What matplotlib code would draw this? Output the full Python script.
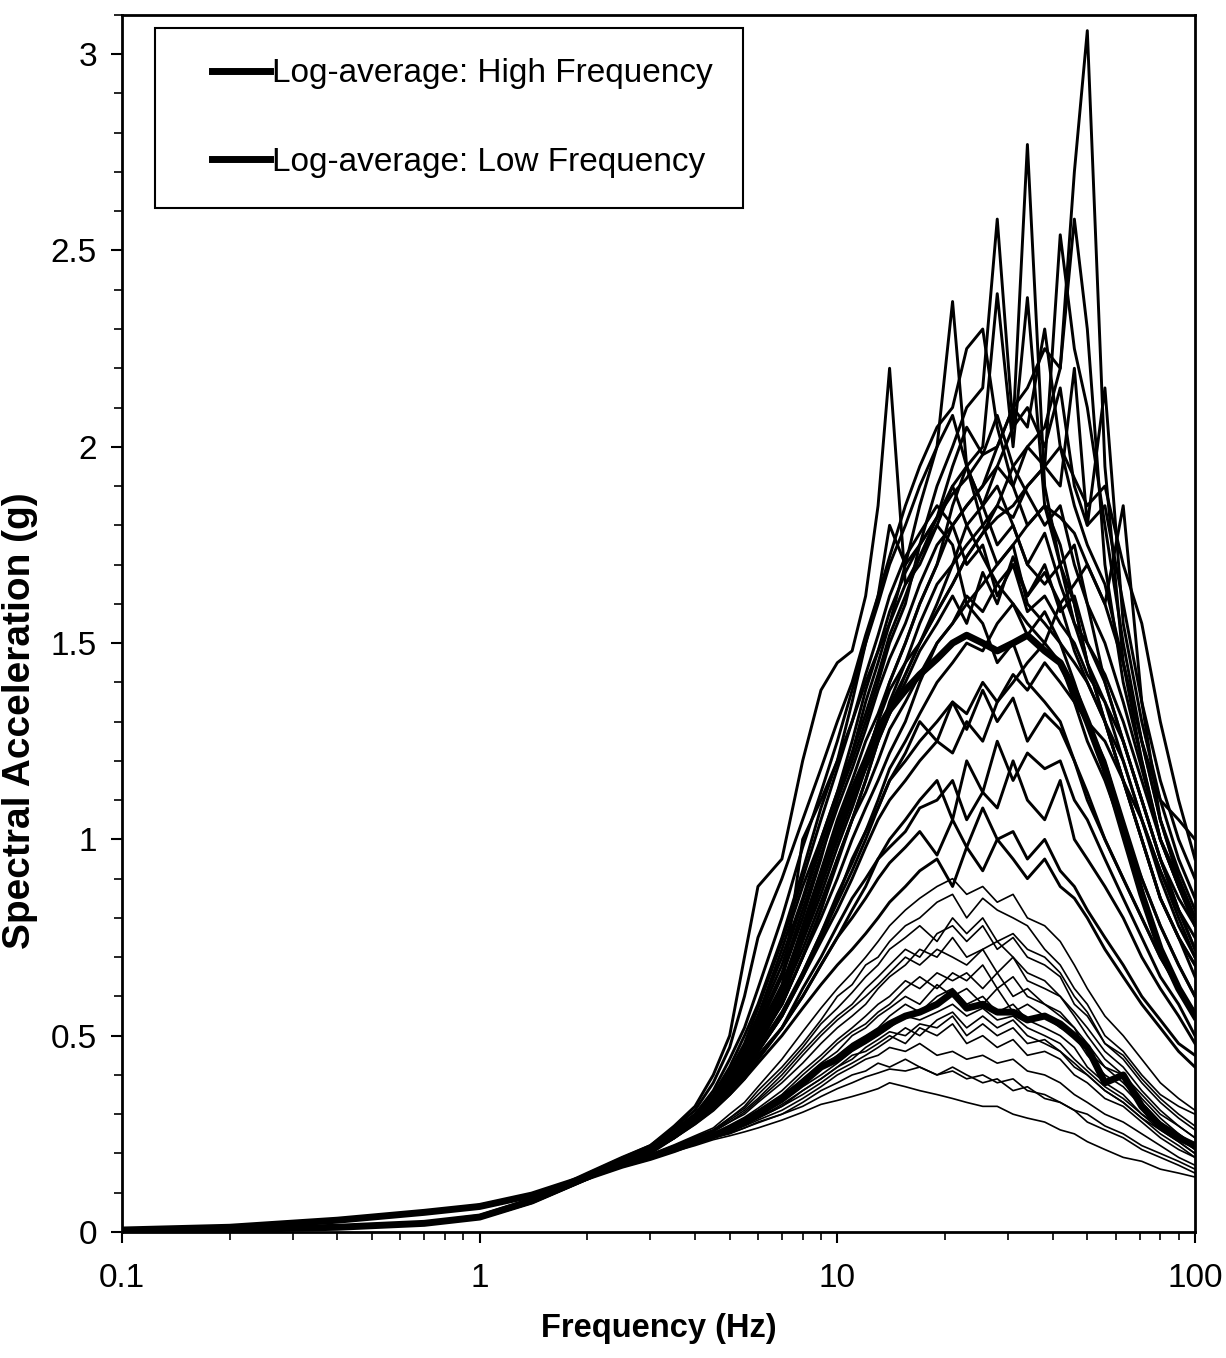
import matplotlib
matplotlib.use('Agg')
import matplotlib.pyplot as plt
from matplotlib.legend_handler import HandlerLine2D
from matplotlib.ticker import LogLocator, MultipleLocator, NullFormatter

# frequency grid (Hz) shared by every spectrum
freq = [0.1, 0.2, 0.4, 0.7, 1.0, 1.4, 2.0, 2.5,
        3.0, 3.5, 4.0, 4.5, 5.0, 5.5, 6.0, 7, 8, 9, 10, 11, 12, 13, 14,
        15.5, 17, 19, 21, 23, 25.5, 28, 31, 34, 38, 42, 46, 50, 56, 63, 71,
        80, 90, 100]

# high-frequency records (g)
hf_01 = [0.003, 0.007, 0.013, 0.024, 0.042, 0.085, 0.15, 0.19, 0.22, 0.27, 0.32, 0.40,
         0.50, 0.70, 0.88, 0.95, 1.20, 1.38, 1.45, 1.48, 1.62, 1.85, 2.20, 1.65, 1.70, 1.80, 1.75, 1.60, 1.55, 1.45, 1.50, 1.40, 1.35, 1.30, 1.20, 1.10, 1.00, 0.90, 0.80, 0.70, 0.62, 0.55]
hf_02 = [0.003, 0.006, 0.012, 0.022, 0.038, 0.08, 0.14, 0.18, 0.21, 0.25, 0.29, 0.33,
         0.38, 0.44, 0.52, 0.65, 0.80, 0.95, 1.10, 1.20, 1.30, 1.40, 1.50, 1.60, 1.75, 1.90, 2.00, 2.10, 2.15, 2.58, 2.05, 2.77, 1.90, 1.70, 1.60, 1.45, 1.30, 1.15, 1.00, 0.85, 0.75, 0.68]
hf_03 = [0.003, 0.006, 0.011, 0.021, 0.036, 0.078, 0.14, 0.18, 0.21, 0.25, 0.28, 0.32,
         0.37, 0.42, 0.48, 0.60, 0.75, 0.88, 1.00, 1.10, 1.20, 1.30, 1.38, 1.45, 1.55, 1.65, 1.70, 1.80, 1.85, 1.95, 1.90, 2.00, 1.95, 2.54, 2.25, 2.10, 1.80, 1.50, 1.25, 1.05, 0.90, 0.80]
hf_04 = [0.003, 0.006, 0.012, 0.023, 0.040, 0.082, 0.145, 0.185, 0.215, 0.255, 0.295, 0.34,
         0.40, 0.47, 0.55, 0.72, 0.88, 1.00, 1.12, 1.22, 1.35, 1.45, 1.55, 1.70, 1.85, 2.00, 2.37, 1.95, 1.80, 1.70, 1.75, 1.60, 1.55, 1.50, 1.40, 1.30, 1.20, 1.05, 0.90, 0.78, 0.68, 0.60]
hf_05 = [0.003, 0.006, 0.012, 0.022, 0.038, 0.079, 0.14, 0.18, 0.21, 0.25, 0.29, 0.33,
         0.38, 0.43, 0.50, 0.62, 0.78, 0.92, 1.05, 1.15, 1.25, 1.32, 1.40, 1.50, 1.60, 1.70, 1.85, 1.95, 2.00, 2.39, 2.00, 2.38, 1.85, 1.70, 1.75, 1.60, 1.40, 1.25, 1.10, 0.95, 0.82, 0.72]
hf_06 = [0.003, 0.006, 0.012, 0.022, 0.039, 0.08, 0.142, 0.18, 0.21, 0.25, 0.29, 0.33,
         0.38, 0.44, 0.50, 0.62, 0.76, 0.90, 1.00, 1.10, 1.20, 1.30, 1.40, 1.50, 1.60, 1.70, 1.80, 1.85, 1.90, 2.00, 2.10, 2.15, 2.25, 2.20, 2.70, 3.06, 1.95, 1.45, 1.20, 1.00, 0.88, 0.78]
hf_07 = [0.003, 0.006, 0.012, 0.022, 0.038, 0.079, 0.14, 0.18, 0.21, 0.245, 0.285, 0.325,
         0.37, 0.42, 0.48, 0.58, 0.70, 0.82, 0.95, 1.05, 1.15, 1.25, 1.35, 1.45, 1.50, 1.60, 1.70, 1.75, 1.80, 1.85, 1.95, 2.00, 2.05, 2.20, 2.58, 2.30, 1.70, 1.40, 1.20, 1.00, 0.90, 0.80]
hf_08 = [0.003, 0.006, 0.012, 0.022, 0.038, 0.08, 0.14, 0.18, 0.21, 0.25, 0.29, 0.33,
         0.38, 0.43, 0.49, 0.60, 0.74, 0.86, 0.98, 1.08, 1.18, 1.26, 1.34, 1.42, 1.50, 1.58, 1.65, 1.72, 1.78, 1.82, 1.85, 1.90, 1.95, 1.90, 2.20, 1.80, 2.15, 1.55, 1.30, 1.10, 0.95, 0.85]
hf_09 = [0.003, 0.006, 0.012, 0.022, 0.039, 0.081, 0.145, 0.18, 0.215, 0.255, 0.30, 0.35,
         0.42, 0.50, 0.58, 0.75, 0.92, 1.08, 1.20, 1.35, 1.50, 1.62, 1.72, 1.85, 1.95, 2.05, 2.10, 2.25, 2.30, 2.05, 1.90, 1.80, 1.85, 1.75, 1.60, 1.45, 1.30, 1.15, 1.00, 0.85, 0.75, 0.68]
hf_10 = [0.003, 0.006, 0.012, 0.022, 0.038, 0.08, 0.14, 0.18, 0.21, 0.25, 0.29, 0.33,
         0.38, 0.43, 0.49, 0.58, 0.70, 0.80, 0.90, 1.00, 1.08, 1.15, 1.22, 1.30, 1.40, 1.50, 1.55, 1.60, 1.65, 1.70, 1.75, 1.80, 1.85, 1.82, 1.78, 1.70, 1.60, 1.45, 1.25, 1.10, 1.05, 1.00]
hf_11 = [0.003, 0.006, 0.011, 0.021, 0.036, 0.077, 0.138, 0.178, 0.205, 0.245, 0.28, 0.32,
         0.36, 0.41, 0.46, 0.55, 0.66, 0.76, 0.85, 0.95, 1.02, 1.10, 1.18, 1.25, 1.32, 1.40, 1.45, 1.50, 1.48, 1.55, 1.60, 1.52, 1.58, 1.50, 1.45, 1.40, 1.30, 1.15, 1.00, 0.85, 0.75, 0.65]
hf_12 = [0.003, 0.006, 0.011, 0.021, 0.036, 0.076, 0.136, 0.175, 0.205, 0.24, 0.28, 0.32,
         0.36, 0.40, 0.45, 0.52, 0.60, 0.68, 0.75, 0.82, 0.88, 0.95, 1.00, 1.05, 1.10, 1.15, 1.05, 1.20, 1.12, 1.25, 1.15, 1.22, 1.18, 1.20, 1.10, 1.05, 0.95, 0.85, 0.75, 0.65, 0.58, 0.50]
hf_13 = [0.003, 0.006, 0.012, 0.022, 0.038, 0.079, 0.14, 0.18, 0.21, 0.25, 0.29, 0.33,
         0.38, 0.44, 0.52, 0.62, 1.00, 1.10, 1.20, 1.30, 1.40, 1.48, 1.55, 1.65, 1.72, 1.80, 1.90, 1.95, 1.85, 1.90, 1.80, 1.70, 1.78, 1.65, 1.55, 1.50, 1.40, 1.25, 1.10, 0.95, 0.82, 0.72]
hf_14 = [0.003, 0.006, 0.011, 0.021, 0.035, 0.075, 0.135, 0.175, 0.20, 0.24, 0.275, 0.31,
         0.35, 0.39, 0.43, 0.50, 0.57, 0.63, 0.68, 0.72, 0.76, 0.80, 0.84, 0.88, 0.92, 0.95, 0.88, 0.98, 0.92, 1.00, 0.95, 0.90, 0.95, 0.88, 0.85, 0.80, 0.72, 0.65, 0.58, 0.52, 0.46, 0.42]
hf_15 = [0.003, 0.006, 0.012, 0.022, 0.039, 0.08, 0.142, 0.182, 0.212, 0.252, 0.292, 0.335,
         0.39, 0.45, 0.53, 0.66, 0.82, 0.96, 1.08, 1.18, 1.28, 1.38, 1.46, 1.55, 1.65, 1.75, 1.80, 1.85, 1.90, 1.95, 2.05, 2.10, 2.00, 2.15, 1.90, 1.80, 1.85, 1.60, 1.35, 1.15, 1.00, 0.90]
hf_16 = [0.003, 0.006, 0.012, 0.022, 0.038, 0.079, 0.14, 0.18, 0.21, 0.25, 0.29, 0.33,
         0.38, 0.43, 0.50, 0.60, 0.72, 0.84, 0.95, 1.05, 1.12, 1.20, 1.28, 1.35, 1.42, 1.50, 1.55, 1.62, 1.58, 1.65, 1.70, 1.62, 1.68, 1.60, 1.65, 1.70, 1.60, 1.85, 1.35, 1.05, 0.90, 0.80]
hf_17 = [0.003, 0.006, 0.011, 0.021, 0.037, 0.078, 0.138, 0.178, 0.208, 0.248, 0.285, 0.325,
         0.37, 0.42, 0.47, 0.56, 0.66, 0.76, 0.86, 0.94, 1.02, 1.08, 1.15, 1.20, 1.25, 1.30, 1.35, 1.32, 1.40, 1.35, 1.42, 1.38, 1.45, 1.40, 1.35, 1.30, 1.25, 1.15, 1.05, 0.92, 0.82, 0.75]
hf_18 = [0.003, 0.006, 0.012, 0.023, 0.040, 0.082, 0.145, 0.185, 0.215, 0.26, 0.30, 0.36,
         0.44, 0.52, 0.62, 0.80, 0.98, 1.12, 1.25, 1.38, 1.50, 1.60, 1.70, 1.80, 1.90, 2.00, 2.08, 1.95, 1.85, 1.75, 1.80, 1.70, 1.65, 1.70, 1.55, 1.45, 1.35, 1.20, 1.05, 0.90, 0.78, 0.70]
hf_19 = [0.003, 0.006, 0.011, 0.021, 0.036, 0.076, 0.136, 0.176, 0.205, 0.24, 0.28, 0.315,
         0.36, 0.40, 0.44, 0.52, 0.62, 0.70, 0.78, 0.85, 0.90, 0.95, 0.98, 1.02, 1.08, 1.10, 1.15, 1.05, 1.12, 1.08, 1.20, 1.10, 1.05, 1.15, 1.00, 0.95, 0.88, 0.80, 0.70, 0.62, 0.55, 0.48]
hf_20 = [0.003, 0.006, 0.012, 0.022, 0.039, 0.08, 0.142, 0.18, 0.21, 0.25, 0.29, 0.34,
         0.40, 0.47, 0.55, 0.70, 0.85, 1.00, 1.12, 1.25, 1.38, 1.48, 1.58, 1.68, 1.75, 1.82, 1.88, 1.92, 1.98, 2.00, 2.10, 2.05, 2.30, 2.00, 1.85, 1.75, 1.65, 1.45, 1.25, 1.05, 0.92, 0.82]
hf_21 = [0.003, 0.006, 0.011, 0.021, 0.036, 0.077, 0.137, 0.177, 0.206, 0.245, 0.282, 0.32,
         0.36, 0.41, 0.46, 0.55, 0.65, 0.75, 0.84, 0.92, 1.00, 1.08, 1.15, 1.22, 1.30, 1.25, 1.35, 1.28, 1.38, 1.30, 1.36, 1.25, 1.32, 1.28, 1.20, 1.12, 1.00, 0.90, 0.80, 0.70, 0.62, 0.56]
hf_22 = [0.003, 0.006, 0.012, 0.022, 0.039, 0.081, 0.143, 0.182, 0.213, 0.254, 0.295, 0.34,
         0.41, 0.48, 0.57, 0.74, 0.90, 1.05, 1.18, 1.30, 1.42, 1.52, 1.62, 1.72, 1.78, 1.85, 1.80, 1.70, 1.75, 1.62, 1.70, 1.58, 1.62, 1.55, 1.50, 1.42, 1.35, 1.25, 1.10, 0.95, 0.85, 0.78]
hf_23 = [0.003, 0.006, 0.011, 0.021, 0.035, 0.075, 0.135, 0.175, 0.203, 0.24, 0.276, 0.312,
         0.35, 0.39, 0.44, 0.52, 0.60, 0.68, 0.75, 0.80, 0.85, 0.90, 0.94, 0.98, 1.02, 0.96, 1.05, 0.98, 1.08, 1.00, 1.02, 0.95, 1.00, 0.92, 0.88, 0.82, 0.75, 0.68, 0.60, 0.54, 0.48, 0.45]
hf_24 = [0.003, 0.006, 0.012, 0.022, 0.038, 0.079, 0.14, 0.18, 0.21, 0.25, 0.288, 0.328,
         0.37, 0.42, 0.48, 0.58, 0.70, 0.82, 0.94, 1.05, 1.15, 1.25, 1.32, 1.42, 1.50, 1.58, 1.65, 1.72, 1.78, 1.85, 1.82, 1.90, 1.95, 2.00, 1.92, 1.85, 1.90, 1.70, 1.55, 1.30, 1.10, 0.95]
hf_25 = [0.003, 0.006, 0.012, 0.022, 0.038, 0.08, 0.141, 0.18, 0.21, 0.25, 0.29, 0.33,
         0.38, 0.44, 0.51, 0.63, 0.77, 0.90, 1.00, 1.10, 1.18, 1.25, 1.32, 1.40, 1.48, 1.55, 1.62, 1.55, 1.68, 1.60, 1.72, 1.62, 1.70, 1.58, 1.62, 1.50, 1.42, 1.30, 1.15, 1.00, 0.88, 0.80]
hf_26 = [0.003, 0.007, 0.013, 0.023, 0.041, 0.083, 0.148, 0.188, 0.22, 0.265, 0.31, 0.38,
         0.47, 0.60, 0.75, 0.90, 1.05, 1.18, 1.30, 1.40, 1.52, 1.62, 1.80, 1.70, 1.75, 1.82, 1.90, 1.80, 1.72, 1.65, 1.60, 1.55, 1.50, 1.45, 1.35, 1.25, 1.15, 1.02, 0.90, 0.78, 0.68, 0.60]
hf_27 = [0.003, 0.006, 0.011, 0.021, 0.037, 0.078, 0.139, 0.179, 0.208, 0.247, 0.284, 0.322,
         0.36, 0.41, 0.46, 0.55, 0.65, 0.74, 0.82, 0.90, 0.98, 1.05, 1.10, 1.15, 1.20, 1.25, 1.22, 1.30, 1.25, 1.35, 1.40, 1.45, 1.50, 1.60, 1.48, 1.40, 1.30, 1.20, 1.05, 0.92, 0.80, 0.70]
hf_28 = [0.003, 0.006, 0.012, 0.022, 0.039, 0.08, 0.142, 0.181, 0.212, 0.252, 0.292, 0.335,
         0.39, 0.46, 0.54, 0.68, 0.84, 0.98, 1.10, 1.22, 1.32, 1.42, 1.52, 1.62, 1.72, 1.82, 1.95, 2.05, 1.98, 2.08, 1.95, 1.88, 1.80, 1.85, 1.70, 1.60, 1.50, 1.35, 1.18, 1.00, 0.88, 0.78]

# low-frequency records (g)
lf_01 = [0.005, 0.012, 0.028, 0.048, 0.062, 0.09, 0.135, 0.165, 0.185, 0.205, 0.22, 0.235,
         0.245, 0.255, 0.265, 0.285, 0.305, 0.325, 0.335, 0.345, 0.355, 0.365, 0.38, 0.37, 0.36, 0.35, 0.34, 0.33, 0.32, 0.32, 0.30, 0.29, 0.28, 0.26, 0.25, 0.23, 0.21, 0.19, 0.18, 0.16, 0.15, 0.14]
lf_02 = [0.005, 0.012, 0.029, 0.049, 0.064, 0.092, 0.138, 0.168, 0.188, 0.208, 0.225, 0.24,
         0.25, 0.265, 0.28, 0.30, 0.33, 0.36, 0.38, 0.40, 0.41, 0.43, 0.42, 0.44, 0.42, 0.40, 0.42, 0.40, 0.38, 0.39, 0.36, 0.37, 0.34, 0.33, 0.31, 0.30, 0.27, 0.25, 0.22, 0.20, 0.18, 0.16]
lf_03 = [0.005, 0.013, 0.03, 0.05, 0.065, 0.094, 0.14, 0.17, 0.19, 0.21, 0.23, 0.245,
         0.26, 0.275, 0.29, 0.32, 0.36, 0.39, 0.42, 0.45, 0.46, 0.48, 0.50, 0.48, 0.52, 0.50, 0.53, 0.48, 0.50, 0.47, 0.49, 0.45, 0.46, 0.44, 0.40, 0.38, 0.34, 0.32, 0.28, 0.24, 0.21, 0.19]
lf_04 = [0.005, 0.012, 0.03, 0.05, 0.066, 0.095, 0.14, 0.17, 0.19, 0.212, 0.232, 0.248,
         0.265, 0.28, 0.30, 0.34, 0.38, 0.42, 0.45, 0.48, 0.50, 0.52, 0.55, 0.58, 0.56, 0.60, 0.62, 0.58, 0.60, 0.56, 0.58, 0.54, 0.52, 0.50, 0.47, 0.42, 0.38, 0.35, 0.30, 0.26, 0.23, 0.20]
lf_05 = [0.006, 0.013, 0.031, 0.051, 0.067, 0.096, 0.142, 0.172, 0.192, 0.214, 0.235, 0.25,
         0.27, 0.29, 0.31, 0.35, 0.40, 0.44, 0.48, 0.51, 0.53, 0.56, 0.58, 0.62, 0.65, 0.62, 0.66, 0.64, 0.68, 0.62, 0.65, 0.60, 0.58, 0.55, 0.52, 0.48, 0.42, 0.40, 0.34, 0.29, 0.25, 0.22]
lf_06 = [0.006, 0.013, 0.031, 0.052, 0.068, 0.097, 0.143, 0.173, 0.195, 0.217, 0.238, 0.255,
         0.28, 0.30, 0.33, 0.38, 0.43, 0.48, 0.52, 0.55, 0.58, 0.62, 0.65, 0.68, 0.72, 0.70, 0.75, 0.70, 0.72, 0.74, 0.70, 0.66, 0.64, 0.60, 0.56, 0.52, 0.46, 0.42, 0.36, 0.31, 0.27, 0.24]
lf_07 = [0.006, 0.014, 0.032, 0.053, 0.07, 0.098, 0.145, 0.175, 0.197, 0.22, 0.242, 0.26,
         0.29, 0.32, 0.36, 0.42, 0.48, 0.54, 0.60, 0.63, 0.68, 0.70, 0.74, 0.78, 0.80, 0.84, 0.86, 0.80, 0.85, 0.82, 0.80, 0.78, 0.72, 0.68, 0.62, 0.58, 0.50, 0.46, 0.40, 0.35, 0.32, 0.30]
lf_08 = [0.005, 0.012, 0.029, 0.049, 0.063, 0.091, 0.137, 0.167, 0.187, 0.207, 0.226, 0.242,
         0.255, 0.27, 0.285, 0.31, 0.34, 0.37, 0.40, 0.42, 0.44, 0.45, 0.47, 0.46, 0.48, 0.45, 0.46, 0.44, 0.45, 0.43, 0.44, 0.41, 0.40, 0.38, 0.35, 0.33, 0.30, 0.28, 0.25, 0.22, 0.19, 0.17]
lf_09 = [0.005, 0.013, 0.03, 0.051, 0.066, 0.095, 0.141, 0.171, 0.191, 0.213, 0.233, 0.25,
         0.268, 0.285, 0.305, 0.345, 0.39, 0.43, 0.46, 0.50, 0.52, 0.55, 0.57, 0.60, 0.58, 0.63, 0.60, 0.62, 0.58, 0.62, 0.56, 0.58, 0.55, 0.52, 0.50, 0.45, 0.40, 0.37, 0.32, 0.28, 0.24, 0.21]
lf_10 = [0.006, 0.013, 0.031, 0.052, 0.068, 0.097, 0.143, 0.174, 0.195, 0.218, 0.24, 0.258,
         0.285, 0.31, 0.34, 0.40, 0.46, 0.51, 0.55, 0.58, 0.62, 0.65, 0.68, 0.72, 0.70, 0.76, 0.78, 0.74, 0.78, 0.72, 0.75, 0.70, 0.68, 0.65, 0.58, 0.55, 0.48, 0.44, 0.38, 0.33, 0.29, 0.26]
lf_11 = [0.005, 0.012, 0.029, 0.05, 0.064, 0.093, 0.139, 0.169, 0.189, 0.21, 0.228, 0.244,
         0.258, 0.272, 0.29, 0.32, 0.35, 0.38, 0.41, 0.43, 0.45, 0.47, 0.49, 0.52, 0.50, 0.54, 0.56, 0.52, 0.55, 0.52, 0.54, 0.50, 0.48, 0.46, 0.42, 0.40, 0.36, 0.33, 0.29, 0.25, 0.22, 0.19]
lf_12 = [0.005, 0.012, 0.03, 0.05, 0.065, 0.094, 0.14, 0.17, 0.19, 0.21, 0.23, 0.246,
         0.262, 0.28, 0.295, 0.33, 0.37, 0.40, 0.43, 0.46, 0.48, 0.50, 0.52, 0.55, 0.54, 0.56, 0.58, 0.55, 0.57, 0.54, 0.55, 0.52, 0.50, 0.48, 0.44, 0.41, 0.37, 0.34, 0.30, 0.27, 0.24, 0.21]
lf_13 = [0.006, 0.014, 0.032, 0.053, 0.07, 0.098, 0.145, 0.176, 0.198, 0.222, 0.245, 0.265,
         0.30, 0.33, 0.37, 0.44, 0.51, 0.57, 0.62, 0.66, 0.70, 0.74, 0.78, 0.82, 0.85, 0.88, 0.90, 0.86, 0.88, 0.84, 0.86, 0.80, 0.78, 0.74, 0.68, 0.62, 0.55, 0.50, 0.44, 0.38, 0.34, 0.31]
lf_14 = [0.006, 0.013, 0.031, 0.052, 0.068, 0.097, 0.143, 0.173, 0.195, 0.218, 0.24, 0.257,
         0.28, 0.305, 0.335, 0.39, 0.45, 0.50, 0.54, 0.57, 0.60, 0.63, 0.66, 0.70, 0.68, 0.72, 0.70, 0.68, 0.72, 0.66, 0.70, 0.64, 0.62, 0.60, 0.55, 0.50, 0.44, 0.40, 0.35, 0.30, 0.27, 0.24]
lf_15 = [0.005, 0.012, 0.03, 0.05, 0.065, 0.094, 0.14, 0.17, 0.19, 0.21, 0.23, 0.245,
         0.26, 0.275, 0.29, 0.325, 0.36, 0.39, 0.42, 0.44, 0.47, 0.49, 0.51, 0.50, 0.53, 0.52, 0.55, 0.50, 0.53, 0.50, 0.52, 0.48, 0.49, 0.46, 0.43, 0.40, 0.36, 0.33, 0.29, 0.26, 0.23, 0.20]
lf_16 = [0.005, 0.013, 0.031, 0.051, 0.067, 0.096, 0.142, 0.172, 0.193, 0.215, 0.236, 0.252,
         0.272, 0.292, 0.315, 0.36, 0.41, 0.45, 0.49, 0.52, 0.55, 0.58, 0.60, 0.64, 0.62, 0.66, 0.64, 0.66, 0.62, 0.66, 0.60, 0.62, 0.58, 0.56, 0.52, 0.46, 0.42, 0.38, 0.33, 0.28, 0.25, 0.22]
lf_17 = [0.005, 0.012, 0.029, 0.049, 0.063, 0.091, 0.137, 0.167, 0.187, 0.206, 0.224, 0.24,
         0.252, 0.265, 0.278, 0.30, 0.32, 0.345, 0.365, 0.38, 0.395, 0.405, 0.415, 0.41, 0.42, 0.40, 0.41, 0.39, 0.40, 0.38, 0.39, 0.36, 0.35, 0.33, 0.31, 0.28, 0.26, 0.24, 0.21, 0.19, 0.17, 0.15]
lf_18 = [0.006, 0.013, 0.031, 0.052, 0.069, 0.097, 0.144, 0.174, 0.196, 0.22, 0.242, 0.26,
         0.29, 0.315, 0.35, 0.41, 0.47, 0.53, 0.57, 0.61, 0.65, 0.68, 0.72, 0.75, 0.78, 0.74, 0.80, 0.76, 0.80, 0.74, 0.76, 0.72, 0.70, 0.66, 0.60, 0.56, 0.48, 0.45, 0.39, 0.34, 0.30, 0.27]

# log-averages (g)
hf_avg = [0.003, 0.006, 0.012, 0.022, 0.038, 0.079, 0.14, 0.18, 0.21, 0.25, 0.29, 0.33,
          0.37, 0.42, 0.48, 0.60, 0.76, 0.90, 1.02, 1.12, 1.20, 1.28, 1.33, 1.38, 1.42, 1.46, 1.50, 1.52, 1.50, 1.48, 1.50, 1.52, 1.48, 1.45, 1.38, 1.30, 1.18, 1.02, 0.86, 0.72, 0.62, 0.55]
lf_avg = [0.005, 0.012, 0.03, 0.05, 0.065, 0.094, 0.14, 0.17, 0.19, 0.21, 0.23, 0.245,
          0.26, 0.28, 0.30, 0.34, 0.38, 0.42, 0.44, 0.47, 0.49, 0.51, 0.53, 0.55, 0.56, 0.58, 0.61, 0.57, 0.58, 0.56, 0.56, 0.54, 0.55, 0.53, 0.50, 0.47, 0.38, 0.40, 0.32, 0.27, 0.24, 0.22]

x_ticks = [0.1, 1, 10, 100]
x_tick_labels = ['0.1', '1', '10', '100']
y_ticks = [0, 0.5, 1, 1.5, 2, 2.5, 3]
y_tick_labels = ['0', '0.5', '1', '1.5', '2', '2.5', '3']

high_records = [hf_01, hf_02, hf_03, hf_04, hf_05, hf_06, hf_07, hf_08, hf_09, hf_10,
                hf_11, hf_12, hf_13, hf_14, hf_15, hf_16, hf_17, hf_18, hf_19, hf_20,
                hf_21, hf_22, hf_23, hf_24, hf_25, hf_26, hf_27, hf_28]
low_records = [lf_01, lf_02, lf_03, lf_04, lf_05, lf_06, lf_07, lf_08, lf_09, lf_10,
               lf_11, lf_12, lf_13, lf_14, lf_15, lf_16, lf_17, lf_18]

plt.rcParams['font.family'] = ['Liberation Sans', 'DejaVu Sans']

fig = plt.figure(figsize=(12.26, 13.58), dpi=100)
ax = fig.add_axes([0.0995, 0.0928, 0.8752, 0.8962])

for rec in low_records:
    ax.plot(freq, rec, color='black', lw=1.2)
for rec in high_records:
    ax.plot(freq, rec, color='black', lw=2.1)

ax.plot(freq, hf_avg, color='black', lw=5, label='Log-average: High Frequency')
ax.plot(freq, lf_avg, color='black', lw=5, label='Log-average: Low Frequency')

ax.set_xscale('log')
ax.set_xlim(0.1, 100)
ax.set_ylim(0, 3.1)
ax.set_xticks(x_ticks)
ax.set_xticklabels(x_tick_labels)
ax.xaxis.set_minor_locator(LogLocator(base=10, subs=range(2, 10)))
ax.xaxis.set_minor_formatter(NullFormatter())
ax.set_yticks(y_ticks)
ax.set_yticklabels(y_tick_labels)
ax.yaxis.set_minor_locator(MultipleLocator(0.1))

ax.tick_params(axis='both', which='major', direction='out', length=8, width=1.5,
               labelsize=24)
ax.tick_params(axis='both', which='minor', direction='out', length=6, width=1.2)
ax.tick_params(axis='x', which='major', pad=14)
ax.tick_params(axis='y', which='major', pad=10)
for side in ax.spines.values():
    side.set_linewidth(2)

ax.set_xlabel('Frequency (Hz)', fontsize=23.5, fontweight='bold', labelpad=14)
ax.set_ylabel('Spectral Acceleration (g)', fontsize=28, fontweight='bold')
ax.yaxis.set_label_coords(-0.078, 0.42)

# handle inset from the left edge, like the original legend
handler = HandlerLine2D(xpad=0.81)
leg = ax.legend(loc='upper left', bbox_to_anchor=(0.031, 0.989), borderaxespad=0,
                fontsize=24, handlelength=2.55, handletextpad=0.06,
                labelspacing=1.72, borderpad=0.9, fancybox=False,
                edgecolor='black', framealpha=1,
                handler_map={plt.Line2D: handler})
leg.get_frame().set_linewidth(1.5)

fig.savefig('out.png', dpi=100)
